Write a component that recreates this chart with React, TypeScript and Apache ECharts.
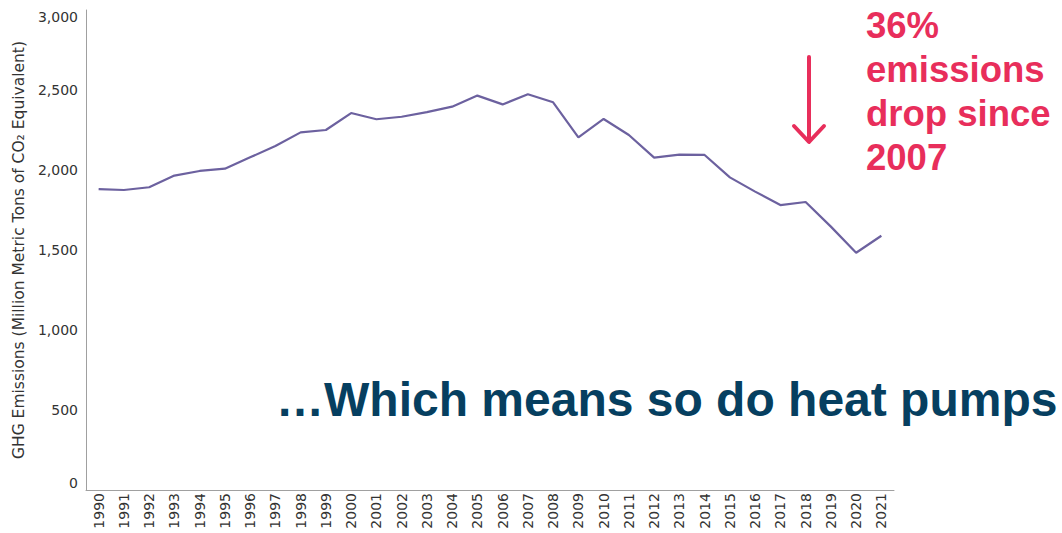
import React, { useEffect, useRef } from "react";
import * as echarts from "echarts";

const years: string[] = [
  "1990", "1991", "1992", "1993", "1994", "1995", "1996", "1997", "1998", "1999",
  "2000", "2001", "2002", "2003", "2004", "2005", "2006", "2007", "2008", "2009",
  "2010", "2011", "2012", "2013", "2014", "2015", "2016", "2017", "2018", "2019",
  "2020", "2021",
];

const emissions: number[] = [
  1881, 1875, 1892, 1965, 1994, 2008, 2079, 2150, 2235, 2250,
  2356, 2317, 2333, 2362, 2396, 2465, 2410, 2473, 2423, 2204,
  2319, 2219, 2077, 2096, 2094, 1954, 1865, 1781, 1800, 1646,
  1483, 1589,
];

const yTicks: number[] = [0, 500, 1000, 1500, 2000, 2500, 3000];

const yAxisName = "GHG Emissions (Million Metric Tons of CO\u2082 Equivalent)";
const calloutLines: string[] = ["36%", "emissions", "drop since", "2007"];
const headline = "\u2026Which means so do heat pumps";

const RED = "#E82E5B";
const NAVY = "#063F60";

export default function App() {
  const ref = useRef<HTMLDivElement>(null);

  useEffect(() => {
    if (!ref.current) return;
    const chart = echarts.init(ref.current, undefined, { renderer: "svg" });
    chart.setOption({
      animation: false,
      backgroundColor: "#ffffff",
      grid: { left: 86, right: 168, top: 10, bottom: 43, containLabel: false },
      xAxis: {
        type: "category",
        data: years,
        boundaryGap: true,
        axisLine: { show: true, onZero: false, lineStyle: { color: "#a0a0a0", width: 1 } },
        axisTick: { show: false },
        axisLabel: {
          rotate: 90,
          interval: 0,
          margin: 3,
          color: "#333333",
          fontFamily: "DejaVu Sans",
          fontSize: 14,
        },
        splitLine: { show: false },
      },
      yAxis: {
        type: "value",
        min: 0,
        max: 3000,
        interval: 500,
        name: yAxisName,
        nameLocation: "middle",
        nameRotate: 90,
        nameGap: 59,
        nameTextStyle: { color: "#333333", fontFamily: "DejaVu Sans", fontSize: 15.5 },
        axisLine: { show: true, lineStyle: { color: "#a0a0a0", width: 1 } },
        axisTick: { show: false },
        splitLine: { show: false },
        axisLabel: {
          customValues: yTicks,
          margin: 8,
          color: "#333333",
          fontFamily: "DejaVu Sans",
          fontSize: 14,
          verticalAlignMinLabel: "bottom",
          verticalAlignMaxLabel: "top",
          formatter: (v: number) => v.toLocaleString("en-US"),
        },
      },
      series: [
        {
          type: "line",
          data: emissions,
          symbol: "none",
          smooth: false,
          lineStyle: { color: "#6C619F", width: 2.2 },
        },
      ],
      graphic: [
        {
          type: "line",
          shape: { x1: 809, y1: 57, x2: 809, y2: 141 },
          style: { stroke: RED, lineWidth: 4, lineCap: "round" },
        },
        {
          type: "polyline",
          shape: { points: [[794, 126], [809, 142], [824, 126]] },
          style: { stroke: RED, lineWidth: 4, lineCap: "round", lineJoin: "round", fill: null },
        },
        {
          type: "text",
          x: 866,
          y: 3,
          style: {
            text: calloutLines.join("\n"),
            fill: RED,
            font: "bold 36.5px 'Liberation Sans', Arial, sans-serif",
            lineHeight: 44,
            textAlign: "left",
            textVerticalAlign: "top",
          },
        },
        {
          type: "text",
          x: 276,
          y: 399,
          style: {
            text: headline,
            fill: NAVY,
            font: "bold 48px 'Liberation Sans', Arial, sans-serif",
            textAlign: "left",
            textVerticalAlign: "middle",
          },
        },
      ],
    });
    return () => chart.dispose();
  }, []);

  return (
    <div
      ref={ref}
      style={{ position: "absolute", left: 0, top: 0, width: 1062, height: 533, background: "#fff" }}
    />
  );
}
